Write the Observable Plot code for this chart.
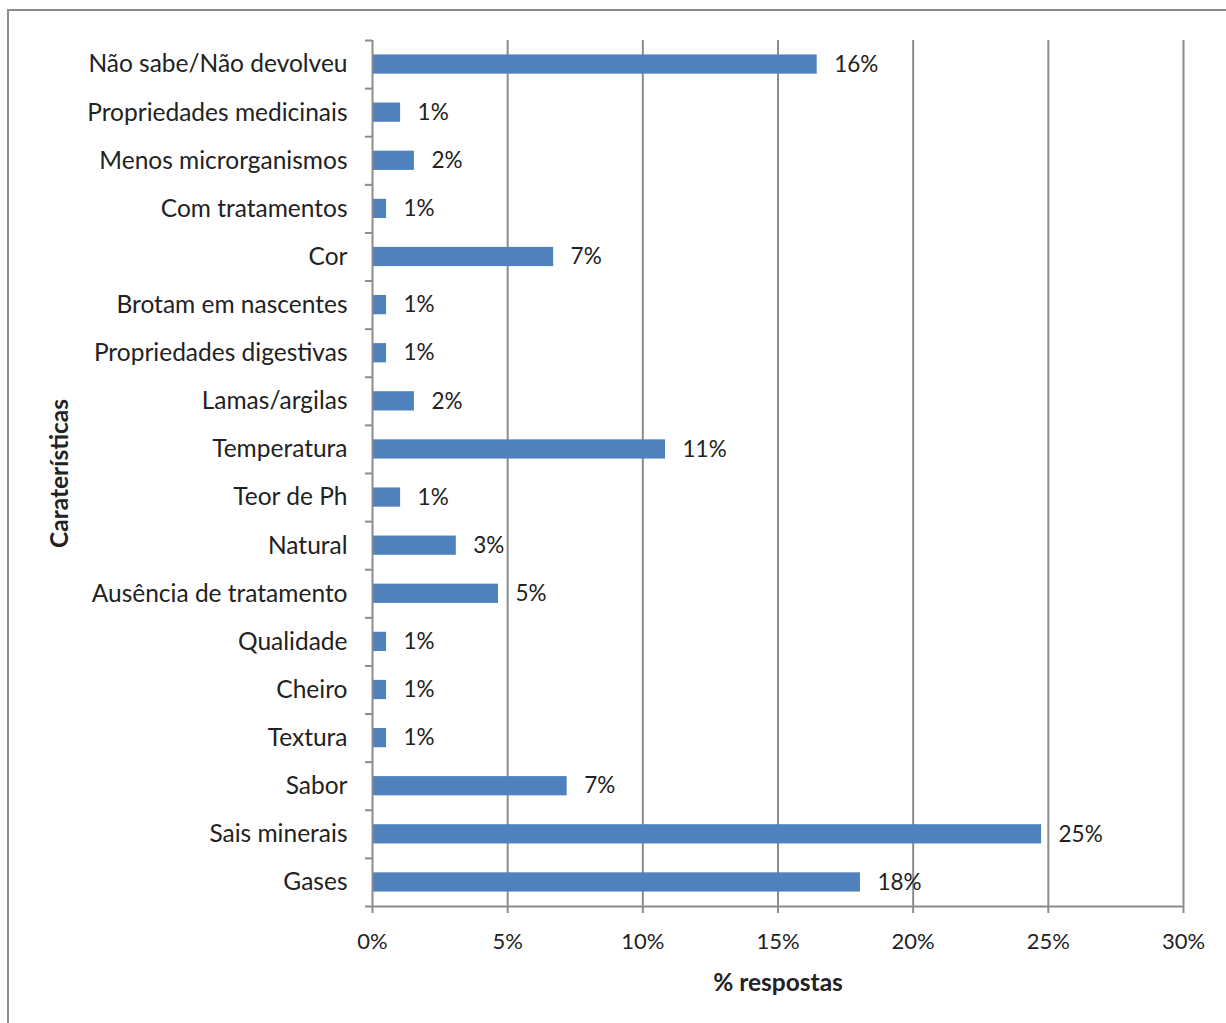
<!DOCTYPE html>
<html><head><meta charset="utf-8">
<script src="https://cdn.jsdelivr.net/npm/d3@7"></script>
<script src="https://cdn.jsdelivr.net/npm/@observablehq/plot@0.6"></script>
<style>
body{margin:0;background:#fff;}
#wrap{position:relative;width:1226px;height:1023px;overflow:hidden;background:#fff;}
#border{position:absolute;left:7px;top:9px;width:1300px;height:1100px;border:2px solid #8c8c8c;box-sizing:border-box;}
#chart{position:absolute;left:0;top:0;}
</style></head><body>
<div id="wrap"><div id="border"></div><div id="chart"></div></div>
<script>
const categories = [
  "Não sabe/Não devolveu", "Propriedades medicinais", "Menos microrganismos",
  "Com tratamentos", "Cor", "Brotam em nascentes", "Propriedades digestivas",
  "Lamas/argilas", "Temperatura", "Teor de Ph", "Natural", "Ausência de tratamento",
  "Qualidade", "Cheiro", "Textura", "Sabor", "Sais minerais", "Gases"
];
const values = [16.45, 1.04, 1.55, 0.52, 6.7, 0.52, 0.52, 1.55, 10.84, 1.04, 3.1, 4.66, 0.52, 0.52, 0.52, 7.2, 24.75, 18.05];
const labels = ["16%", "1%", "2%", "1%", "7%", "1%", "1%", "2%", "11%", "1%", "3%", "5%", "1%", "1%", "1%", "7%", "25%", "18%"];
const xTicks = [0, 5, 10, 15, 20, 25, 30];
const xTitle = "% respostas";
const yTitle = "Caraterísticas";

const n = categories.length;
const data = categories.map((c, i) => ({cat: c, i, value: values[i], label: labels[i]}));
const boundaries = d3.range(n + 1).map(i => i - 0.5);
const lineColor = "#8c8c8c";

const chart = Plot.plot({
  width: 1226, height: 1023,
  marginLeft: 372, marginRight: 43, marginTop: 40, marginBottom: 117,
  style: {fontFamily: "Lato", fontSize: "22px", color: "#222", background: "transparent"},
  x: {domain: [0, 30]},
  y: {domain: [-0.5, n - 0.5], reverse: true},
  marks: [
    Plot.ruleX(xTicks.slice(1), {stroke: lineColor, strokeWidth: 2}),
    Plot.rectX(data, {x1: 0, x2: "value", y1: d => d.i - 0.2, y2: d => d.i + 0.2, fill: "#4f81bd"}),
    Plot.ruleX([0], {stroke: lineColor, strokeWidth: 2}),
    Plot.ruleY([n - 0.5], {stroke: lineColor, strokeWidth: 2}),
    Plot.axisX(xTicks, {tickSize: 7, tickPadding: 20, tickFormat: d => d + "%", stroke: lineColor, strokeWidth: 2, label: null}),
    Plot.axisY(boundaries, {tickSize: 7, tickFormat: () => "", stroke: lineColor, strokeWidth: 2, label: null}),
    Plot.axisY(d3.range(n), {tickSize: 0, tickPadding: 25, tickFormat: i => categories[i], label: null, fontSize: 24.5}),
    Plot.text(data, {x: "value", y: "i", text: "label", textAnchor: "start", dx: 17, fontSize: 22.5}),
    Plot.text([xTitle], {frameAnchor: "bottom", dy: 84, fontWeight: "bold", fontSize: 24.5}),
    Plot.text([yTitle], {frameAnchor: "left", textAnchor: "middle", rotate: -90, dx: -312, fontWeight: "bold", fontSize: 24.5})
  ]
});
document.getElementById("chart").appendChild(chart);
</script>
</body></html>
